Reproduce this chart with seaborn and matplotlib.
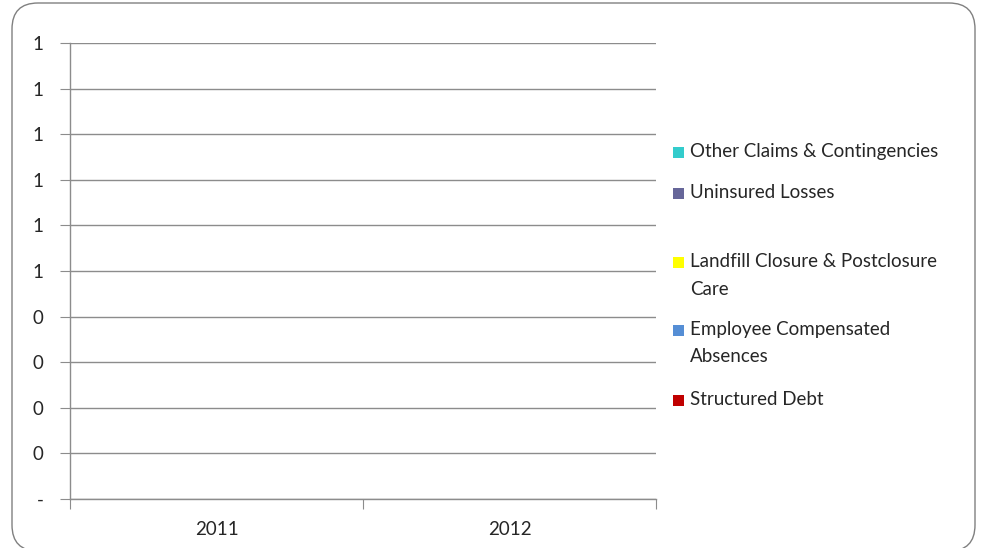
import numpy as np
import pandas as pd
import seaborn as sns
import matplotlib
matplotlib.use("Agg")
from matplotlib import pyplot as plt
from matplotlib import patches as mpatches
from matplotlib.ticker import FuncFormatter, FixedLocator
from matplotlib.transforms import IdentityTransform

years = ["2011", "2012"]
series = ["Structured Debt", "Employee Compensated\nAbsences",
          "Landfill Closure & Postclosure\nCare", "Uninsured Losses",
          "Other Claims & Contingencies"]
colors = ["#C00000", "#558ED5", "#FFFF00", "#666699", "#33CCCC"]
structured_debt = [0, 0]
employee_absences = [0, 0]
landfill_care = [0, 0]
uninsured_losses = [0, 0]
other_claims = [0, 0]

values = [structured_debt, employee_absences, landfill_care, uninsured_losses, other_claims]
df = pd.DataFrame([(y, s, v[i]) for s, v in zip(series, values) for i, y in enumerate(years)],
                  columns=["year", "series", "value"])

sns.set_style("white")
plt.rcParams["font.family"] = ["Lato", "DejaVu Sans"]
fs = 13.5

fig = plt.figure(figsize=(9.84, 5.48), dpi=100)
ax = fig.add_axes([70 / 984, 1 - 499 / 548, 586 / 984, 456 / 548])

sns.barplot(data=df, x="year", y="value", hue="series", palette=colors, ax=ax,
            dodge=False, width=0.5, saturation=1, linewidth=0, legend=False)

ax.set_xlim(-0.5, 1.5)
ax.set_ylim(0, 1)
ax.set_xlabel("")
ax.set_ylabel("")

grid_c = "#8C8C8C"
ax.yaxis.set_major_locator(FixedLocator(np.linspace(0, 1, 11)))


def fmt(v, pos):
    if abs(v) < 1e-9:
        return "-"
    return str(int(np.floor(v + 0.5 + 1e-9)))


ax.yaxis.set_major_formatter(FuncFormatter(fmt))
ax.grid(axis="y", color=grid_c, lw=1)
ax.set_axisbelow(True)
for s in ["top", "right"]:
    ax.spines[s].set_visible(False)
ax.spines["left"].set_color(grid_c)
ax.spines["bottom"].set_color(grid_c)
ax.spines["left"].set_linewidth(1)
ax.spines["bottom"].set_linewidth(1)
ax.tick_params(axis="y", length=7, color=grid_c, labelsize=fs, pad=12, direction="out", left=True)

ax.set_xticks([-0.5, 0.5, 1.5])
ax.set_xticklabels(["", "", ""])
ax.set_xticks([0, 1], minor=True)
ax.set_xticklabels(years, minor=True)
ax.tick_params(axis="x", which="major", length=7, color=grid_c, direction="out", bottom=True)
ax.tick_params(axis="x", which="minor", length=0, labelsize=fs, pad=16)

# legend, drawn by hand so the swatch sits on the first text line (Excel style)
legend_y = [152, 193, 262, 330, 400]
for (label, col), ypx in zip(list(zip(series, colors))[::-1], legend_y):
    fig.patches.append(mpatches.Rectangle((673, 548 - ypx - 5.5), 11, 11, facecolor=col,
                                          edgecolor="none", transform=IdentityTransform()))
    fig.text(690 / 984, 1 - (ypx - 9) / 548, label, ha="left", va="top", fontsize=fs,
             linespacing=1.75)

border = mpatches.FancyBboxPatch((12, -3), 963, 548,
                                 boxstyle="round,pad=0,rounding_size=26",
                                 transform=IdentityTransform(), facecolor="none",
                                 edgecolor="#808080", lw=1)
fig.patches.append(border)

fig.savefig("out.png", dpi=100)
